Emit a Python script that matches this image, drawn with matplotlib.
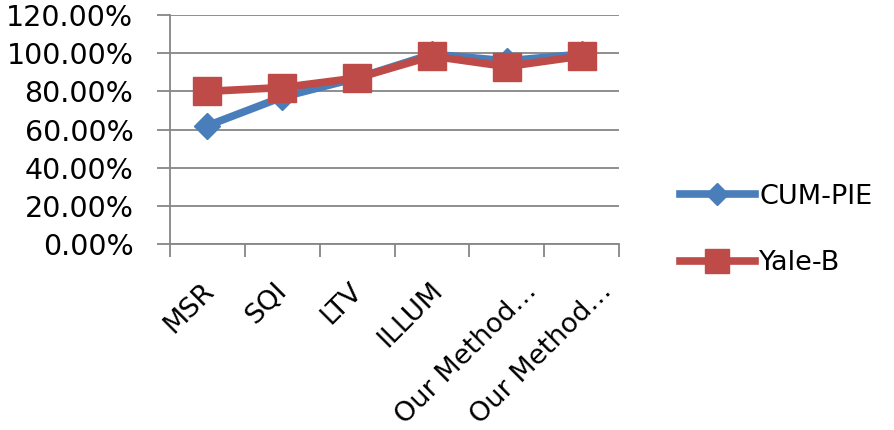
import matplotlib
matplotlib.use("Agg")
import matplotlib.pyplot as plt
import matplotlib.transforms as mtransforms
from matplotlib.ticker import FixedLocator, PercentFormatter

categories = ["MSR", "SQI", "LTV", "ILLUM", "Our Method\u2026", "Our Method\u2026"]
cum_pie = [62, 77, 87, 99.5, 96, 99.5]
yale_b = [80, 82, 87, 98.5, 93, 98.5]
series_names = ["CUM-PIE", "Yale-B"]

plt.rcParams['font.family'] = ['DejaVu Sans']
grid_c = "#868686"
fs = 19.5

fig = plt.figure(figsize=(8.95, 4.3), dpi=100)
ax = fig.add_axes([0.19, 0.4326, 0.5016, 0.5324])
x = list(range(len(categories)))
ax.plot(x, cum_pie, color="#4A7EBB", lw=5.5, marker="D", markersize=13,
        label=series_names[0], solid_joinstyle="round", zorder=3)
ax.plot(x, yale_b, color="#BE4B48", lw=5.5, marker="s", markersize=20,
        label=series_names[1], solid_joinstyle="round", zorder=4)

ax.set_ylim(0, 120)
ax.set_yticks(range(0, 121, 20))
ax.yaxis.set_major_formatter(PercentFormatter(decimals=2))
ax.set_xlim(-0.5, len(categories) - 0.5)
ax.set_xticks(x)
ax.set_xticklabels(categories, rotation=45, ha="right", va="center", rotation_mode="anchor")
ax.xaxis.set_minor_locator(FixedLocator([i - 0.5 for i in range(len(categories) + 1)]))
ax.tick_params(axis="x", which="major", length=0, pad=33, labelsize=fs, colors="black")
ax.tick_params(axis="x", which="minor", length=9.4, width=1.3, color=grid_c, direction="out")
ax.tick_params(axis="y", length=9.4, width=1.3, color=grid_c, labelsize=20.5, pad=17)
ax.grid(axis="y", color=grid_c, lw=1.3)
ax.set_axisbelow(True)
for s in ["top", "right"]:
    ax.spines[s].set_visible(False)
for s in ["left", "bottom"]:
    ax.spines[s].set_color(grid_c)
    ax.spines[s].set_linewidth(1.3)

# Shift rotated labels rightwards in proportion to their extent (Excel-like placement)
fig.canvas.draw()
renderer = fig.canvas.get_renderer()
labs = ax.get_xticklabels()
widths = [lab.get_window_extent(renderer).width for lab in labs]
wmin = min(widths)
for lab, w in zip(labs, widths):
    dx = 1 + (w - wmin) * 0.25
    off = mtransforms.ScaledTranslation(dx / fig.dpi, 3 / fig.dpi, fig.dpi_scale_trans)
    lab.set_transform(lab.get_transform() + off)

leg = fig.legend(loc="center left", bbox_to_anchor=(0.732, 0.465), frameon=False,
                 fontsize=fs, handlelength=2.8, handletextpad=0.15, labelspacing=1.5,
                 markerscale=0.85)
fig.savefig("out.png", dpi=100)
